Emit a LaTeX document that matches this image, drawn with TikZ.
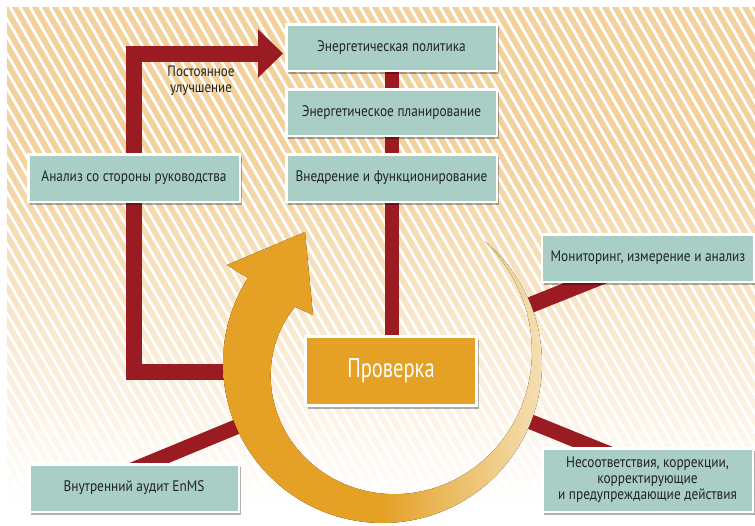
\documentclass[tikz,border=0pt]{standalone}
\usepackage{fontspec}
\setmainfont{PT Sans}[FakeStretch=0.87]
\newfontfamily\checkfont{PT Sans}[FakeStretch=0.76]
\usetikzlibrary{shadows,arrows.meta,calc}
\definecolor{bgbeige}{HTML}{F2D19C}
\definecolor{boxteal}{HTML}{A9CEC6}
\definecolor{ringorange}{HTML}{E4A126}
\definecolor{ringpale}{HTML}{F5DFB4}
\definecolor{barred}{HTML}{9A1B21}
\definecolor{txtdark}{HTML}{222222}
\pgfdeclarelayer{bglayer}
\pgfdeclarelayer{barlayer}
\pgfsetlayers{bglayer,barlayer,main}
\tikzset{
  boxshadow/.style={drop shadow={shadow xshift=2pt, shadow yshift=-3pt, opacity=0.3, fill=black}},
  stagebox/.style={boxshadow, draw=white, line width=2.5pt, fill=boxteal, text=txtdark,
     font=\fontsize{15.3}{16}\selectfont, align=center, inner sep=0pt},
  checkbox/.style={boxshadow, draw=white, line width=3pt, fill=ringorange, text=white,
     font=\checkfont\fontsize{27}{30}\selectfont, inner sep=0pt},
  redbar/.style={draw=barred, line width=15pt},
  notetext/.style={text=txtdark, font=\fontsize{15}{16.5}\selectfont, align=center, inner sep=0pt},
}
\begin{document}
\begin{tikzpicture}[x=1pt,y=-1pt]
\useasboundingbox (0,0) rectangle (755,525);
% boxes
\node[stagebox, minimum width=210.5pt, minimum height=46.5pt] (pol) at (391.5,47.5) {Энергетическая политика};
\node[stagebox, minimum width=210.5pt, minimum height=46.5pt] (plan) at (391.5,112.5) {Энергетическое планирование};
\node[stagebox, minimum width=210.5pt, minimum height=47.5pt] (impl) at (391.5,178) {Внедрение и функционирование};
\node[stagebox, minimum width=211.5pt, minimum height=47.5pt] (rev) at (134,178) {Анализ со стороны руководства};
\node[stagebox, minimum width=212.5pt, minimum height=47.5pt] (mon) at (648,258) {Мониторинг, измерение и анализ};
\node[stagebox, minimum width=210.5pt, minimum height=63.5pt] (nc) at (647.5,480) {Несоответствия, коррекции,\\корректирующие\\и предупреждающие действия};
\node[stagebox, minimum width=209.5pt, minimum height=47.5pt] (aud) at (134,488) {Внутренний аудит EnMS};
\node[checkbox, minimum width=171pt, minimum height=69pt] (chk) at (391,371) {Проверка};
\node[notetext] (ci) at (201,81) {Постоянное\\улучшение};

\begin{pgfonlayer}{bglayer}
  \fill[bgbeige] (7,7) rectangle (755,150);
  \fill[top color=bgbeige, bottom color=white] (7,149.5) rectangle (755,505);
  \fill[white] (7,504.5) rectangle (755,525);
  \begin{scope}
    \clip (7,7) rectangle (755,525);
    \foreach \k in {-31,...,76} \draw[white, line width=2.8pt] (\k*10,7) -- ++(299.1,518);
  \end{scope}
\end{pgfonlayer}

\begin{pgfonlayer}{barlayer}
  \draw[redbar, line width=14pt] (pol.south) -- (pol.south |- chk.north);
  \coordinate (loopstart) at (255,371.5);
  \coordinate (looptip) at ($(pol.west)+(-2,6)$);
  \draw[redbar, line width=16pt, -{Triangle[length=25pt,width=47pt]}]
    (loopstart) -- (rev.center |- loopstart) -- (rev.center |- looptip) -- (looptip);
  \coordinate (monstart) at (528,306);
  \draw[redbar, line width=16pt] (monstart) -- ($(mon.south west)+(75,-12)$);
  \coordinate (ncstart) at (524.5,419.3);
  \draw[redbar, line width=15pt] (ncstart) -- ($(nc.north west)+(84,13)$);
  \coordinate (audstart) at (270,413);
  \draw[redbar, line width=15pt] (audstart) -- ($(aud.north west)+(92,12)$);
  % circular arrow
  \fill[left color=ringorange, right color=ringpale, middle color=ringorange]
    plot[domain=-50:212.4, samples=90, smooth] ({382.5+159.5*cos(\x)},{363.5+159.5*sin(\x)})
    -- (227,265) -- (305,232) -- (313,315)
    -- plot[domain=212.9:-50, samples=90, smooth] ({382.5+(159.5-0.21*(\x+50))*cos(\x)},{363.5+(159.5-0.21*(\x+50))*sin(\x)})
    -- cycle;
\end{pgfonlayer}
\end{tikzpicture}
\end{document}
